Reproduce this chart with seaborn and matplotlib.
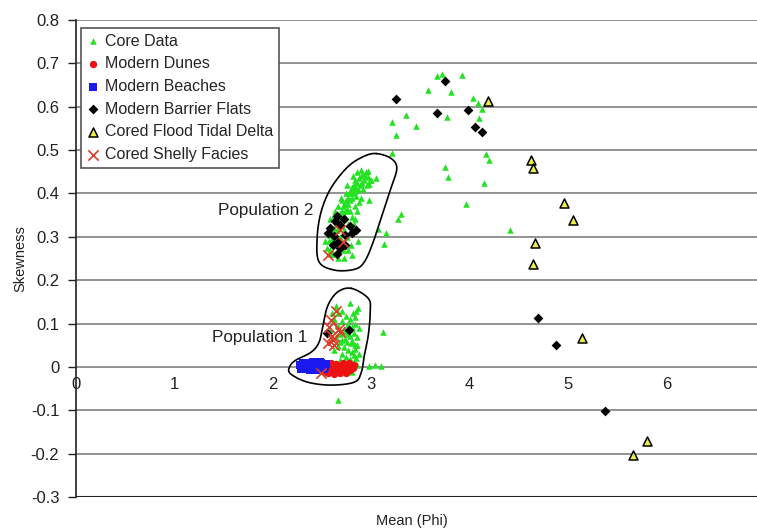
import numpy as np
import pandas as pd
import matplotlib
matplotlib.use("Agg")
import matplotlib.pyplot as plt
import seaborn as sns

# ---------------- data ----------------
core_x = [3.67, 3.72, 3.92, 3.58, 3.81, 4.03, 4.08, 4.13, 3.21, 3.35, 3.45, 3.25, 3.77, 4.10,
          3.21, 4.17, 4.20, 3.75, 3.78, 4.15, 3.96, 3.30, 3.27, 3.15, 3.13, 4.41, 3.12, 2.98,
          3.04, 3.10, 2.66, 3.05, 3.07, 2.97, 2.97, 2.99, 2.98, 2.91, 2.98, 2.87, 2.80,
          # population 2 cluster
          2.55, 2.57, 2.58, 2.60, 2.60, 2.62, 2.63, 2.64, 2.65, 2.66, 2.67, 2.68, 2.69, 2.70,
          2.70, 2.71, 2.72, 2.73, 2.73, 2.74, 2.75, 2.76, 2.76, 2.77, 2.78, 2.78, 2.79, 2.80,
          2.80, 2.81, 2.82, 2.83, 2.83, 2.84, 2.85, 2.86, 2.87, 2.88, 2.89, 2.90, 2.92, 2.93,
          2.94, 2.62, 2.66, 2.70, 2.74, 2.68, 2.72, 2.76, 2.80, 2.84, 2.58, 2.64, 2.70, 2.75,
          2.82, 2.86, 2.90, 2.61, 2.76, 2.72, 2.79,
          2.58, 2.63, 2.69, 2.75, 2.81, 2.86, 2.90, 2.95, 2.84, 2.88, 2.92, 2.96, 2.78, 2.71,
          2.66, 2.59, 2.53, 2.55, 2.57, 3.00,
          # population 1 cluster
          2.78, 2.87, 2.81, 2.78, 2.74, 2.70, 2.76, 2.80, 2.84, 2.72, 2.66, 2.62, 2.68, 2.74,
          2.78, 2.82, 2.86, 2.70, 2.75, 2.79, 2.83, 2.72, 2.76, 2.80, 2.84, 2.66, 2.62, 2.70,
          2.74, 2.78, 2.82, 2.85, 2.68, 2.64, 2.60, 2.72, 2.80, 2.76, 2.58, 2.60, 2.64, 2.77,
          2.73, 2.85, 2.83, 2.70, 2.66, 2.88, 2.86, 2.88, 2.68, 2.64, 2.80, 2.76, 2.82, 2.86,
          2.79, 2.69]
core_y = [0.671, 0.675, 0.672, 0.639, 0.633, 0.621, 0.608, 0.595, 0.565, 0.581, 0.556, 0.535,
          0.576, 0.575, 0.494, 0.490, 0.477, 0.461, 0.438, 0.425, 0.376, 0.353, 0.341, 0.309,
          0.283, 0.316, 0.080, 0.003, 0.005, 0.003, -0.077, 0.435, 0.319, 0.452, 0.438, 0.432,
          0.421, 0.423, 0.385, 0.291, 0.259,
          0.275, 0.290, 0.305, 0.310, 0.295, 0.320, 0.305, 0.330, 0.315, 0.345, 0.330, 0.355,
          0.340, 0.360, 0.325, 0.370, 0.350, 0.375, 0.360, 0.385, 0.365, 0.390, 0.375, 0.400,
          0.385, 0.360, 0.405, 0.390, 0.415, 0.400, 0.420, 0.405, 0.430, 0.415, 0.395, 0.425,
          0.410, 0.435, 0.420, 0.440, 0.445, 0.430, 0.440, 0.350, 0.370, 0.385, 0.400, 0.300,
          0.315, 0.330, 0.345, 0.370, 0.270, 0.280, 0.290, 0.300, 0.330, 0.360, 0.390, 0.260,
          0.270, 0.250, 0.280,
          0.340, 0.360, 0.390, 0.420, 0.440, 0.450, 0.455, 0.450, 0.340, 0.380, 0.410, 0.420,
          0.310, 0.270, 0.250, 0.260, 0.290, 0.310, 0.320, 0.430,
          0.148, 0.136, 0.125, 0.111, 0.118, 0.105, 0.098, 0.092, 0.100, 0.088, 0.095, 0.110,
          0.075, 0.080, 0.072, 0.078, 0.068, 0.062, 0.058, 0.055, 0.050, 0.045, 0.040, 0.035,
          0.042, 0.048, 0.038, 0.030, 0.022, 0.018, 0.012, 0.020, 0.015, 0.008, -0.005, -0.008,
          -0.012, 0.005, 0.085, 0.125, 0.140, 0.088, 0.065, 0.130, 0.115, 0.130, 0.125, 0.090,
          0.050, 0.030, 0.058, 0.070, 0.060, 0.075, 0.028, 0.005, 0.004, 0.000]

dunes_x = [2.50, 2.52, 2.54, 2.55, 2.57, 2.58, 2.60, 2.61, 2.63, 2.64, 2.66, 2.67, 2.69, 2.70,
           2.72, 2.73, 2.75, 2.76, 2.78, 2.79, 2.81, 2.82, 2.56, 2.62, 2.68, 2.74, 2.59, 2.71, 2.77]
dunes_y = [-0.008, 0.000, -0.012, 0.004, -0.006, 0.006, -0.010, 0.002, -0.004, 0.007, -0.012,
           0.000, -0.006, 0.005, -0.010, 0.002, -0.004, 0.006, -0.008, 0.001, -0.003, 0.004,
           -0.015, -0.016, -0.015, -0.014, 0.009, 0.009, 0.009]

beaches_x = [2.28, 2.30, 2.31, 2.33, 2.34, 2.36, 2.37, 2.39, 2.40, 2.42, 2.43, 2.45, 2.46, 2.47,
             2.49, 2.50, 2.51, 2.53, 2.54, 2.38, 2.44, 2.32, 2.48, 2.52, 2.35, 2.41, 2.29]
beaches_y = [0.004, 0.000, 0.008, -0.003, 0.005, 0.009, -0.004, 0.002, 0.007, -0.002, 0.005,
             0.010, -0.005, 0.003, 0.008, -0.003, 0.004, 0.000, 0.006, -0.007, -0.008, 0.010,
             0.011, -0.006, 0.001, 0.011, -0.004]

barrier_x = [3.75, 3.25, 3.67, 3.98, 4.05, 4.13,
             2.65, 2.72, 2.63, 2.78, 2.68, 2.58, 2.85, 2.80, 2.73, 2.62, 2.56, 2.66, 2.61, 2.73,
             2.68, 2.65, 2.55, 2.77, 4.69, 4.88, 5.38]
barrier_y = [0.660, 0.617, 0.586, 0.592, 0.553, 0.542,
             0.348, 0.341, 0.336, 0.325, 0.328, 0.321, 0.315, 0.308, 0.305, 0.302, 0.308, 0.288,
             0.281, 0.281, 0.275, 0.261, 0.079, 0.085, 0.113, 0.050, -0.101]

delta_x = [4.19, 4.62, 4.64, 4.96, 5.05, 4.66, 4.64, 5.14, 5.80, 5.66]
delta_y = [0.614, 0.477, 0.459, 0.378, 0.338, 0.285, 0.238, 0.067, -0.170, -0.203]

shelly_x = [2.68, 2.71, 2.56, 2.64, 2.59, 2.67, 2.57, 2.61, 2.56, 2.62, 2.68, 2.49, 2.60]
shelly_y = [0.315, 0.288, 0.258, 0.130, 0.107, 0.088, 0.092, 0.061, 0.054, 0.050, 0.080, -0.013,
            0.072]

# hand-drawn population outlines (annotation shapes)
pop2_x = [3.05, 3.20, 3.26, 3.20, 3.12, 3.02, 2.93, 2.83, 2.63, 2.47, 2.45, 2.49, 2.59, 2.76, 2.92]
pop2_y = [0.492, 0.481, 0.458, 0.412, 0.357, 0.288, 0.242, 0.225, 0.223, 0.242, 0.296, 0.357,
          0.412, 0.461, 0.485]
pop1_x = [2.80, 2.97, 2.99, 2.97, 2.93, 2.90, 2.83, 2.59, 2.35, 2.18, 2.17, 2.23, 2.39, 2.47,
          2.51, 2.56, 2.66]
pop1_y = [0.181, 0.158, 0.127, 0.073, 0.027, -0.012, -0.035, -0.042, -0.035, -0.016, 0.000,
          0.015, 0.034, 0.057, 0.096, 0.142, 0.173]

x_ticks = [0, 1, 2, 3, 4, 5, 6]
x_tick_labels = ["0", "1", "2", "3", "4", "5", "6"]
y_ticks = [-0.3, -0.2, -0.1, 0.0, 0.1, 0.2, 0.3, 0.4, 0.5, 0.6, 0.7, 0.8]
y_tick_labels = ["-0.3", "-0.2", "-0.1", "0", "0.1", "0.2", "0.3", "0.4", "0.5", "0.6", "0.7", "0.8"]

# ---------------- plot ----------------
sns.set_theme(style="white")
plt.rcParams["font.family"] = ["Liberation Sans", "DejaVu Sans"]
plt.rcParams["axes.unicode_minus"] = False

fig = plt.figure(figsize=(7.57, 5.30), dpi=100)
ax = fig.add_axes([0.1004, 0.0623, 0.8996, 0.9000])

green = "#22e222"
sns.scatterplot(x=core_x, y=core_y, marker="^", s=22, color=green, edgecolor=green,
                linewidth=0, label="Core Data", ax=ax, zorder=3)
sns.scatterplot(x=dunes_x, y=dunes_y, marker="o", s=28, color="#ee1111", edgecolor="#ee1111",
                linewidth=0, label="Modern Dunes", ax=ax, zorder=4)
sns.scatterplot(x=beaches_x, y=beaches_y, marker="s", s=26, color="#1a1aee", edgecolor="#1a1aee",
                linewidth=0, label="Modern Beaches", ax=ax, zorder=4)
sns.scatterplot(x=barrier_x, y=barrier_y, marker="D", s=25, color="black", edgecolor="black",
                linewidth=0, label="Modern Barrier Flats", ax=ax, zorder=5)
sns.scatterplot(x=delta_x, y=delta_y, marker="^", s=42, color="#eeee44", edgecolor="black",
                linewidth=1.1, label="Cored Flood Tidal Delta", ax=ax, zorder=5)
sns.scatterplot(x=shelly_x, y=shelly_y, marker="x", s=55, color="#dd3a28",
                linewidth=1.2, label="Cored Shelly Facies", ax=ax, zorder=6)


def closed_spline(px, py, n=24):
    P = np.column_stack([px, py])
    N = len(P)
    t = np.linspace(0, 1, n, endpoint=False)[:, None]
    segs = []
    for i in range(N):
        p0, p1, p2, p3 = P[i - 1], P[i], P[(i + 1) % N], P[(i + 2) % N]
        segs.append(0.5 * ((2 * p1) + (-p0 + p2) * t + (2 * p0 - 5 * p1 + 4 * p2 - p3) * t ** 2
                           + (-p0 + 3 * p1 - 3 * p2 + p3) * t ** 3))
    out = np.vstack(segs + [P[:1]])
    return out[:, 0], out[:, 1]


for ox, oy in [(pop2_x, pop2_y), (pop1_x, pop1_y)]:
    sx, sy = closed_spline(ox, oy)
    ax.plot(sx, sy, color="black", lw=1.2, zorder=7)

ax.text(1.93, 0.36, "Population 2", fontsize=12.3, ha="center", va="center", color="#222222")
ax.text(1.87, 0.068, "Population 1", fontsize=12.3, ha="center", va="center", color="#222222")

ax.set_xlim(0, 6.92)
ax.set_ylim(-0.3, 0.8)
ax.set_yticks(y_ticks)
ax.set_yticklabels(y_tick_labels)
ax.set_xticks(x_ticks)
ax.set_xticklabels(x_tick_labels)

ax.yaxis.grid(True, color="#8a8a8a", lw=1.3)
ax.xaxis.grid(False)
ax.set_axisbelow(True)

for s in ["top", "right"]:
    ax.spines[s].set_visible(False)
ax.spines["left"].set_color("#222222")
ax.spines["left"].set_linewidth(1.2)
ax.spines["bottom"].set_position(("data", 0))
ax.spines["bottom"].set_visible(False)
ax.axhline(-0.3, color="#222222", lw=1.5, zorder=2)

ax.tick_params(axis="y", left=True, length=6, width=1, color="#222222", labelsize=12,
               pad=6, labelcolor="#222222")
ax.tick_params(axis="x", bottom=False, length=0, labelsize=12, pad=7, labelcolor="#222222")

ax.set_ylabel("Skewness", fontsize=10.5, color="#222222")
ax.yaxis.set_label_coords(-0.072, 0.5)
ax.set_xlabel("")
fig.text(0.544, 0.017, "Mean (Phi)", fontsize=10.5, color="#222222", ha="center", va="center")

leg = ax.legend(loc="upper left", bbox_to_anchor=(0.007, 0.983), borderaxespad=0,
                fontsize=11.5, frameon=True, fancybox=False, framealpha=1,
                edgecolor="#555555", handlelength=0.8, handletextpad=0.35,
                labelspacing=0.48, borderpad=0.35)
leg.get_frame().set_linewidth(1.2)

fig.savefig("out.png", dpi=100)
